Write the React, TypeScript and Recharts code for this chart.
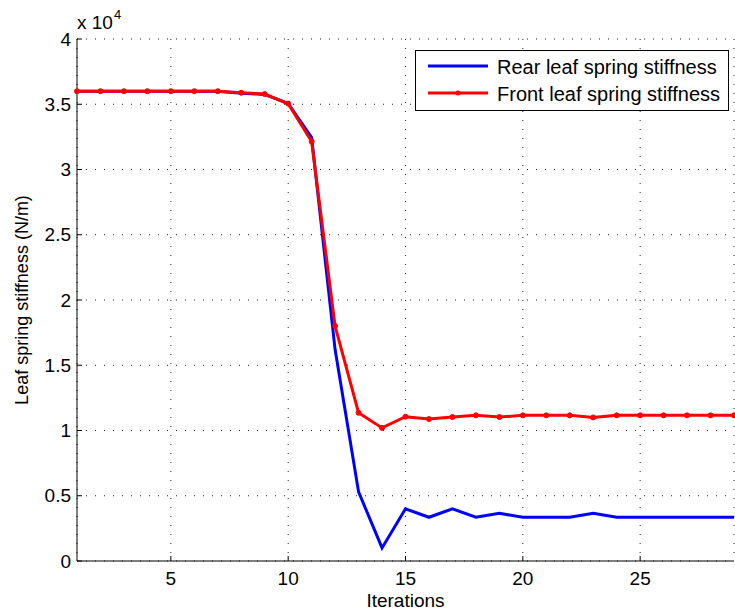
import React from "react";
import {
  LineChart,
  Line,
  XAxis,
  YAxis,
  CartesianGrid,
  Legend,
  Label,
} from "recharts";

const FONT = '"Liberation Sans", Arial, Helvetica, sans-serif';

// iteration number on the x axis
const iterations = [
  1, 2, 3, 4, 5, 6, 7, 8, 9, 10, 11, 12, 13, 14, 15, 16, 17, 18, 19, 20, 21,
  22, 23, 24, 25, 26, 27, 28, 29,
];

// stiffness in N/m
const rearStiffness = [
  36000, 36000, 36000, 36000, 36000, 36000, 36000, 35850, 35750, 35050, 32450,
  16200, 5300, 1000, 4000, 3350, 4000, 3350, 3650, 3350, 3350, 3350, 3650,
  3350, 3350, 3350, 3350, 3350, 3350,
];
const frontStiffness = [
  36000, 36000, 36000, 36000, 36000, 36000, 36000, 35880, 35780, 35050, 32150,
  18000, 11360, 10200, 11060, 10880, 11030, 11160, 11030, 11160, 11160, 11160,
  11000, 11160, 11160, 11160, 11160, 11160, 11160,
];

const xTicks = [5, 10, 15, 20, 25];
const yTicks = [0, 5000, 10000, 15000, 20000, 25000, 30000, 35000, 40000];

const data = iterations.map((it, i) => ({
  it,
  rear: rearStiffness[i],
  front: frontStiffness[i],
}));

const XTitle = (props: any) => {
  const vb = props.viewBox;
  const cx = vb.x + vb.width / 2;
  return (
    <text x={cx} y={vb.y + 46} textAnchor="middle" fontSize={19} fontFamily={FONT} fill="#000">
      Iterations
    </text>
  );
};

const YTitle = (props: any) => {
  const vb = props.viewBox;
  const cx = 22;
  const cy = vb.y + vb.height / 2;
  return (
    <text
      x={cx}
      y={cy}
      transform={`rotate(-90 ${cx} ${cy})`}
      textAnchor="middle"
      dominantBaseline="central"
      fontSize={18}
      fontFamily={FONT}
      fill="#000"
    >
      Leaf spring stiffness (N/m)
    </text>
  );
};

// the "x 10^4" multiplier above the y axis
const Exponent = (props: any) => {
  const vb = props.viewBox;
  return (
    <text x={vb.x + vb.width} y={vb.y - 10} fontSize={19} fontFamily={FONT} fill="#000">
      x 10
      <tspan dx={1} dy={-10} fontSize={13}>
        4
      </tspan>
    </text>
  );
};

const LegendBox = () => (
  <svg width={314} height={61} style={{ display: "block" }}>
    <rect x={0.5} y={0.5} width={313} height={60} fill="#fff" stroke="#000" strokeWidth={1} />
    <line x1={13} x2={73} y1={16} y2={16} stroke="#0000ff" strokeWidth={3} />
    <text x={82} y={17} dominantBaseline="central" fontSize={20} fontFamily={FONT} fill="#000">
      Rear leaf spring stiffness
    </text>
    <line x1={13} x2={73} y1={43} y2={43} stroke="#ff0000" strokeWidth={3} />
    <circle cx={43} cy={43} r={2.5} fill="#ff0000" />
    <text x={82} y={44} dominantBaseline="central" fontSize={20} fontFamily={FONT} fill="#000">
      Front leaf spring stiffness
    </text>
  </svg>
);

export default function App() {
  return (
    <div style={{ position: "absolute", left: 0, top: 0, width: 735, height: 616, background: "#fff" }}>
      <LineChart
        width={735}
        height={616}
        data={data}
        margin={{ top: 39, right: 1, bottom: 0, left: 0 }}
      >
        <CartesianGrid stroke="#222" strokeDasharray="1 8" />
        <XAxis
          dataKey="it"
          type="number"
          domain={[1, 29]}
          ticks={xTicks}
          interval={0}
          height={55}
          tickSize={-5}
          tickMargin={16}
          stroke="#000"
          tick={{ fill: "#000", fontSize: 19, fontFamily: FONT }}
        >
          <Label content={XTitle} />
        </XAxis>
        <XAxis
          xAxisId="top"
          orientation="top"
          type="number"
          domain={[1, 29]}
          ticks={xTicks}
          interval={0}
          height={0}
          tickSize={-5}
          tickFormatter={() => ""}
          stroke="#000"
        />
        <YAxis
          type="number"
          domain={[0, 40000]}
          ticks={yTicks}
          interval={0}
          width={77}
          tickSize={-5}
          tickMargin={11}
          tickFormatter={(v: number) => String(v / 10000)}
          stroke="#000"
          tick={{ fill: "#000", fontSize: 19, fontFamily: FONT }}
        >
          <Label content={YTitle} />
          <Label content={Exponent} />
        </YAxis>
        <YAxis
          yAxisId="right"
          orientation="right"
          type="number"
          domain={[0, 40000]}
          ticks={yTicks}
          interval={0}
          width={0}
          tickSize={-5}
          tickFormatter={() => ""}
          stroke="#000"
        />
        <Legend
          layout="horizontal"
          verticalAlign="middle"
          align="center"
          wrapperStyle={{ left: 415, top: 50, width: 314, height: 61 }}
          content={LegendBox}
        />
        <Line
          dataKey="rear"
          name="Rear leaf spring stiffness"
          stroke="#0000ff"
          strokeWidth={3}
          dot={false}
          isAnimationActive={false}
        />
        <Line
          dataKey="front"
          name="Front leaf spring stiffness"
          stroke="#ff0000"
          strokeWidth={3}
          dot={{ r: 2.5, fill: "#ff0000", stroke: "#ff0000", strokeWidth: 1 }}
          isAnimationActive={false}
        />
      </LineChart>
    </div>
  );
}
